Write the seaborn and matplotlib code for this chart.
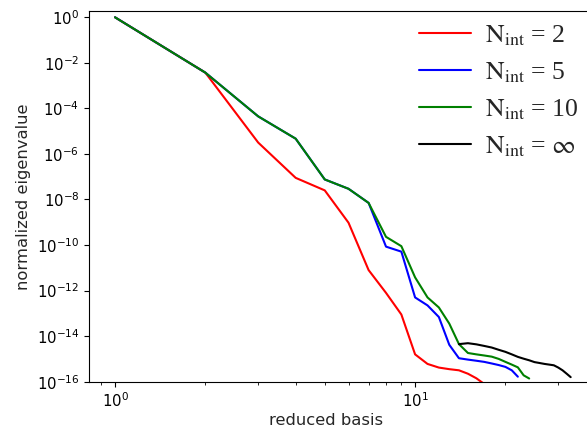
import numpy as np
import pandas as pd
import seaborn as sns
import matplotlib.pyplot as plt
from matplotlib.font_manager import FontProperties
from matplotlib.ticker import NullLocator, FixedLocator

# log10 of the normalized eigenvalues
x_n2 = [1, 2, 3, 4, 5, 6, 7, 8, 9, 10, 11, 12, 13, 14, 15, 16, 17, 18]
logy_n2 = [0, -2.43, -5.5, -7.05, -7.6, -9.02, -11.1, -12.1, -13.05, -14.8,
           -15.22, -15.38, -15.45, -15.5, -15.65, -15.85, -16.1, -16.4]

x_n5 = [1, 2, 3, 4, 5, 6, 7, 8, 9, 10, 11, 12, 13, 14, 15, 16, 17, 18, 19, 20, 21, 22]
logy_n5 = [0, -2.43, -4.35, -5.33, -7.12, -7.53, -8.15, -10.07, -10.29, -12.3,
           -12.65, -13.16, -14.38, -14.97, -15.03, -15.08, -15.13, -15.2, -15.27,
           -15.35, -15.5, -15.78]

x_n10 = [1, 2, 3, 4, 5, 6, 7, 8, 9, 10, 11, 12, 13, 14, 15, 16, 17, 18, 19, 20,
         21, 22, 23, 24]
logy_n10 = [0, -2.43, -4.35, -5.33, -7.12, -7.53, -8.15, -9.64, -10.05, -11.42,
            -12.3, -12.74, -13.45, -14.35, -14.74, -14.8, -14.85, -14.9, -15.0,
            -15.13, -15.25, -15.37, -15.72, -15.86]

x_inf = [14, 15, 16, 17, 18, 19, 20, 21, 22, 23, 24, 25, 26, 27, 28, 29, 30, 31, 32, 33]
logy_inf = [-14.35, -14.31, -14.36, -14.43, -14.5, -14.6, -14.69, -14.8, -14.91,
            -14.99, -15.06, -15.14, -15.18, -15.22, -15.25, -15.28, -15.38, -15.5,
            -15.65, -15.8]

labels = [r'$\mathrm{N_{int}}$ = 2', r'$\mathrm{N_{int}}$ = 5',
          r'$\mathrm{N_{int}}$ = 10', r'$\mathrm{N_{int}}$ = $\infty$']
colors = ['r', 'b', 'g', 'k']

sns.set_style('ticks')
plt.rcParams['font.family'] = ['DejaVu Sans']
plt.rcParams['xtick.major.size'] = 3.5
plt.rcParams['xtick.minor.size'] = 2
plt.rcParams['ytick.major.size'] = 3.5
plt.rcParams['xtick.color'] = 'black'
plt.rcParams['ytick.color'] = 'black'
plt.rcParams['axes.edgecolor'] = 'black'

fig = plt.figure(figsize=(5.87, 4.28), dpi=100)
ax = fig.add_axes([0.1516, 0.1082, 0.8688, 0.8661])

series = [(x_n2, logy_n2), (x_n5, logy_n5), (x_n10, logy_n10), (x_inf, logy_inf)]
for (xs, ly), lab, c in zip(series, labels, colors):
    df = pd.DataFrame({'basis': xs, 'eig': 10.0 ** np.array(ly)})
    sns.lineplot(data=df, x='basis', y='eig', color=c, label=lab, lw=1.5, ax=ax)

ax.set_xscale('log')
ax.set_yscale('log')
ax.set_xlim(0.819, 41.0)
ax.set_ylim(1e-16, 1.89)
ax.yaxis.set_major_locator(FixedLocator([10.0 ** k for k in range(-16, 1, 2)]))
ax.yaxis.set_minor_locator(NullLocator())
ax.tick_params(labelsize=10.7)

ax.set_xlabel('reduced basis', fontsize=11.8)
ax.set_ylabel('normalized eigenvalue', fontsize=11.8)
ax.xaxis.set_label_coords(0.465, -0.085)

leg_font = FontProperties(family='Liberation Serif', size=18.5, math_fontfamily='stix')
ax.legend(loc='upper left', bbox_to_anchor=(0.602, 1.029), frameon=False, prop=leg_font,
          handlelength=2.0, handletextpad=0.55, labelspacing=0.48)

fig.savefig('out.png', dpi=100)
